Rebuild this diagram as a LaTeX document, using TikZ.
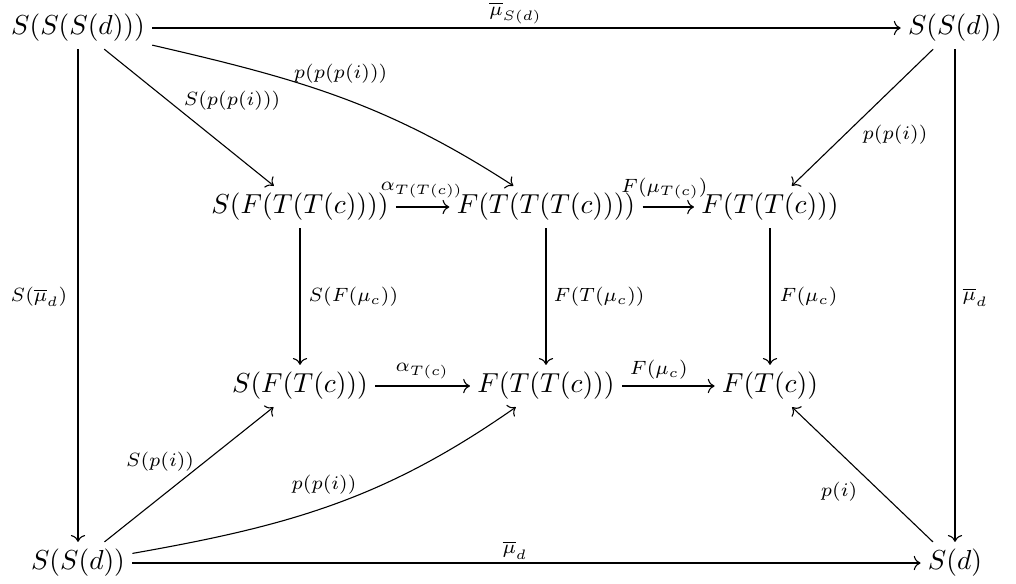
\documentclass[tikz,border=0pt]{standalone}
\usepackage{amsmath}
\usetikzlibrary{cd}
\begin{document}
\begin{tikzpicture}[x=0.364pt,y=0.364pt,
  obj/.style={inner sep=2.5pt},
  arr/.style={line width=0.4pt,-{cm to}},
  lab/.style={inner sep=1.5pt,font=\scriptsize}]
\useasboundingbox (0,0) rectangle (1016,-583);
\node[obj] (A) at (78,-28) {$S(S(S(d)))$};
\node[obj] (B) at (955,-28) {$S(S(d))$};
\node[obj] (C) at (300,-207) {$S(F(T(T(c))))$};
\node[obj] (D) at (546,-207) {$F(T(T(T(c))))$};
\node[obj] (E) at (770,-207) {$F(T(T(c)))$};
\node[obj] (G) at (300,-386) {$S(F(T(c)))$};
\node[obj] (H) at (546,-386) {$F(T(T(c)))$};
\node[obj] (I) at (770,-386) {$F(T(c))$};
\node[obj] (J) at (78,-563) {$S(S(d))$};
\node[obj] (K) at (955,-563) {$S(d)$};

\draw[arr] (A) -- (B) node[lab,midway,shift={(-11,15)}] {$\overline{\mu}_{S(d)}$};
\draw[arr] (J) -- (K) node[lab,midway,shift={(-11.5,13)}] {$\overline{\mu}_{d}$};
\draw[arr] (A) -- (J) node[lab,midway,anchor=east,shift={(-6,-1.5)}] {$S(\overline{\mu}_{d})$};
\draw[arr] (B) -- (K) node[lab,midway,anchor=west,shift={(3,-1.5)}] {$\overline{\mu}_{d}$};

\draw[arr] (A) -- (C) node[lab,pos=0.5,shift={(43,16.5)}] {$S(p(p(i)))$};
\draw[arr] (A) to[out=-13,in=147] node[lab,pos=0.5,shift={(0,24)}] {$p(p(p(i)))$} (D);
\draw[arr] (B) -- (E) node[lab,pos=0.5,shift={(32.5,-17.5)}] {$p(p(i))$};

\draw[arr] (C) -- (D) node[lab,midway,shift={(-1,17)}] {$\alpha_{T(T(c))}$};
\draw[arr] (D) -- (E) node[lab,midway,shift={(-4,18.5)}] {$F(\mu_{T(c)})$};
\draw[arr] (G) -- (H) node[lab,midway,shift={(-0.5,15)}] {$\alpha_{T(c)}$};
\draw[arr] (H) -- (I) node[lab,midway,shift={(-9.5,16)}] {$F(\mu_{c})$};

\draw[arr] (C) -- (G) node[lab,midway,anchor=west,shift={(4,0)}] {$S(F(\mu_{c}))$};
\draw[arr] (D) -- (H) node[lab,midway,anchor=west,shift={(3,0)}] {$F(T(\mu_{c}))$};
\draw[arr] (E) -- (I) node[lab,midway,anchor=west,shift={(5,0)}] {$F(\mu_{c})$};

\draw[arr] (J) -- (G) node[lab,pos=0.5,shift={(-29,12.5)}] {$S(p(i))$};
\draw[arr] (J) to[out=10,in=-145] node[lab,pos=0.5,shift={(-10,20)}] {$p(p(i))$} (H);
\draw[arr] (K) -- (I) node[lab,pos=0.5,shift={(-23.5,-17.5)}] {$p(i)$};
\end{tikzpicture}
\end{document}
